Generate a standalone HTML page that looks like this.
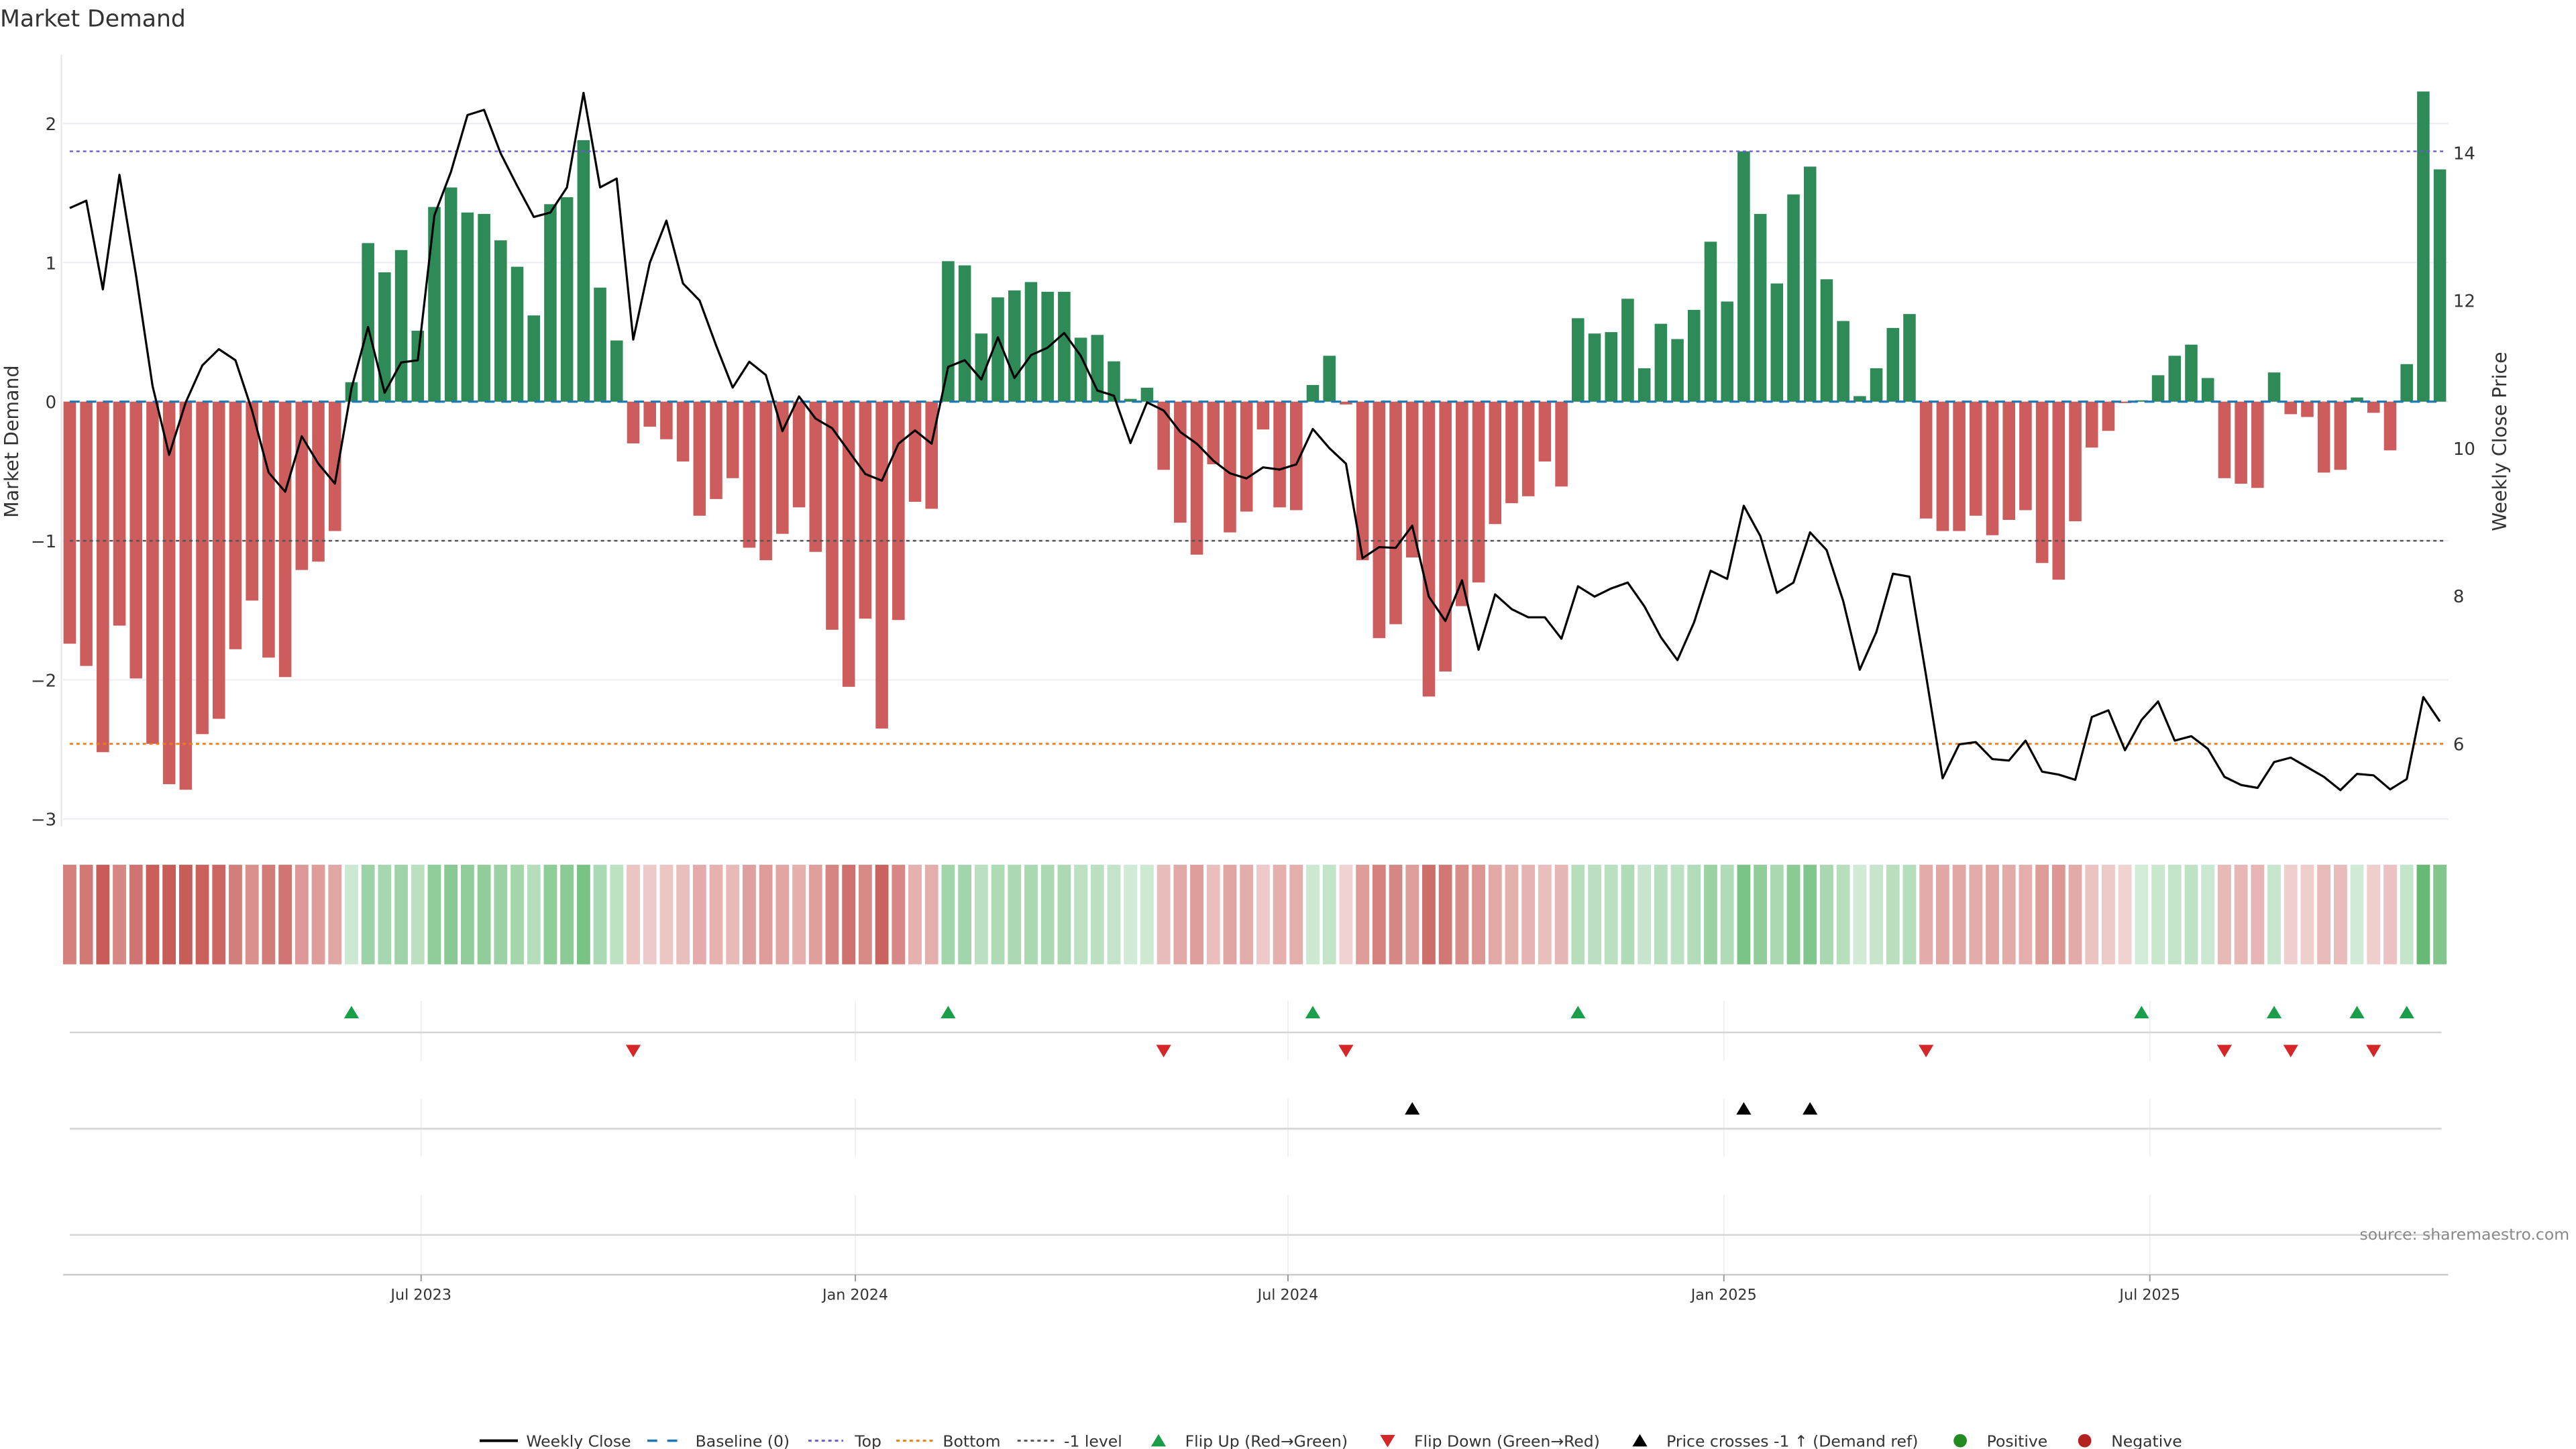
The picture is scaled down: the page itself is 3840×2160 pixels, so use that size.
<!DOCTYPE html>
<html><head><meta charset="utf-8"><style>
html,body{margin:0;padding:0;background:#fff;}
svg{display:block;font-family:"DejaVu Sans","Liberation Sans",sans-serif;}
</style></head><body>
<svg id="chart" width="3840" height="2160" viewBox="0 0 1552 873" preserveAspectRatio="none" xmlns="http://www.w3.org/2000/svg">
<text x="0" y="16" font-size="14" fill="#333">Market Demand</text>
<text transform="translate(11,266) rotate(-90)" text-anchor="middle" font-size="11.5" fill="#333">Market Demand</text>
<text transform="translate(1510,266) rotate(-90)" text-anchor="middle" font-size="11.5" fill="#333">Weekly Close Price</text>
<g id="grid"></g><g id="bars"></g><g id="refs"></g><g id="price"></g><g id="heat"></g><g id="marks"></g><g id="xaxis"></g><g id="legend"></g>
<text x="1548" y="747" text-anchor="end" font-size="9.5" fill="#888">source: sharemaestro.com</text>
</svg>
<script>
const demand = [-1.74,-1.90,-2.52,-1.61,-1.99,-2.46,-2.75,-2.79,-2.39,-2.28,-1.78,-1.43,-1.84,-1.98,-1.21,-1.15,-0.93,0.14,1.14,0.93,1.09,0.51,1.40,1.54,1.36,1.35,1.16,0.97,0.62,1.42,1.47,1.88,0.82,0.44,-0.30,-0.18,-0.27,-0.43,-0.82,-0.70,-0.55,-1.05,-1.14,-0.95,-0.76,-1.08,-1.64,-2.05,-1.56,-2.35,-1.57,-0.72,-0.77,1.01,0.98,0.49,0.75,0.80,0.86,0.79,0.79,0.46,0.48,0.29,0.02,0.10,-0.49,-0.87,-1.10,-0.45,-0.94,-0.79,-0.20,-0.76,-0.78,0.12,0.33,-0.02,-1.14,-1.70,-1.60,-1.12,-2.12,-1.94,-1.47,-1.30,-0.88,-0.73,-0.68,-0.43,-0.61,0.60,0.49,0.50,0.74,0.24,0.56,0.45,0.66,1.15,0.72,1.80,1.35,0.85,1.49,1.69,0.88,0.58,0.04,0.24,0.53,0.63,-0.84,-0.93,-0.93,-0.82,-0.96,-0.85,-0.78,-1.16,-1.28,-0.86,-0.33,-0.21,-0.01,0.01,0.19,0.33,0.41,0.17,-0.55,-0.59,-0.62,0.21,-0.09,-0.11,-0.51,-0.49,0.03,-0.08,-0.35,0.27,2.23,1.67];
const price = [13.25,13.35,12.15,13.70,12.34,10.84,9.91,10.62,11.12,11.34,11.19,10.51,9.67,9.41,10.16,9.79,9.52,10.81,11.64,10.75,11.16,11.19,13.15,13.74,14.51,14.58,13.99,13.55,13.13,13.19,13.53,14.81,13.53,13.65,11.47,12.51,13.08,12.23,12.00,11.39,10.82,11.17,10.99,10.23,10.70,10.40,10.27,9.96,9.65,9.56,10.06,10.24,10.06,11.10,11.19,10.93,11.50,10.95,11.26,11.36,11.56,11.25,10.78,10.71,10.07,10.62,10.51,10.22,10.06,9.83,9.66,9.59,9.74,9.71,9.78,10.26,10.00,9.79,8.51,8.66,8.65,8.95,7.99,7.66,8.21,7.27,8.02,7.82,7.71,7.71,7.42,8.13,7.99,8.10,8.18,7.86,7.44,7.13,7.64,8.34,8.23,9.22,8.81,8.04,8.18,8.86,8.62,7.93,7.00,7.51,8.30,8.26,6.92,5.53,5.99,6.02,5.79,5.77,6.04,5.62,5.58,5.51,6.36,6.45,5.91,6.32,6.57,6.04,6.10,5.93,5.55,5.44,5.40,5.75,5.81,5.68,5.55,5.37,5.59,5.57,5.38,5.52,6.63,6.30];
const crossIdx = [81,101,105];
const leftTicks = [2,1,0,-1,-2,-3];
const rightTicks = [14,12,10,8,6];
const dateTicks = ["Jul 2023","Jan 2024","Jul 2024","Jan 2025","Jul 2025"];
const dateTickIdx = [21.2,47.4,73.5,99.8,125.5];
const topLevel = 1.8, bottomLevel = -2.46, minusLevel = -1;

const NS = "http://www.w3.org/2000/svg";
function mk(parent, tag, attrs){const e=document.createElementNS(NS,tag);for(const k in attrs)e.setAttribute(k,attrs[k]);parent.appendChild(e);return e;}
const X = i => 42 + i*9.986;
const Y = v => 242 - v*83.8;
const P = p => 92 + (14-p)*44.5;
const g = id => document.getElementById(id);
const L = 38, R = 1475;

leftTicks.forEach(t=>{
  const ln = mk(g('grid'),'line',{x1:L,x2:R,y1:Y(t),y2:Y(t),stroke:'#ececf2','stroke-width':0.8});
  
  
  const tx = mk(g('grid'),'text',{x:34,y:Y(t)+4,'text-anchor':'end','font-size':10.5,fill:'#333'});
  tx.textContent = t<0 ? '\u2212'+(-t) : String(t);
  
  
});
rightTicks.forEach(t=>{
  const tx = mk(g('grid'),'text',{x:1478,y:P(t)+4,'font-size':10.5,fill:'#333'});
  tx.textContent = String(t);
  
  
});
const sp = mk(g('grid'),'line',{x1:37,x2:37,y1:33,y2:498,stroke:'#e4e4ea','stroke-width':0.8});



demand.forEach((v,i)=>{
  const y0 = Y(0), y1 = Y(v);
  const r = mk(g('bars'),'rect',{x:X(i)-3.75,width:7.5,y:Math.min(y0,y1),height:Math.abs(y1-y0),fill:v>=0?'#2e8b57':'#cd5c5c'});
  
  
});

const refs=[[0,'#1f77b4','6,4',1.3,'baseline-line'],[topLevel,'#6a5acd','2,2',1,'top-line'],[bottomLevel,'#e67e22','2,2',1.2,'bottom-line'],[minusLevel,'#555','2,2',1,'minus-one-line']];
refs.forEach(([v,c,d,w,n])=>{
  const ln = mk(g('refs'),'line',{x1:42,x2:1472,y1:Y(v),y2:Y(v),stroke:c,'stroke-dasharray':d,'stroke-width':w});
  
  
});

const pl = mk(g('price'),'polyline',{points:price.map((p,i)=>X(i)+','+P(p)).join(' '),fill:'none',stroke:'#000','stroke-width':1.3,'stroke-linejoin':'round'});



demand.forEach((v,i)=>{
  const a = Math.min(0.27 + 0.73*Math.abs(v)/2.5, 1);
  const base = v>=0 ? [90,180,105] : [200,92,88];
  const col = 'rgb('+base.map(c=>Math.round(255-(255-c)*a)).join(',')+')';
  const r = mk(g('heat'),'rect',{x:X(i)-4,width:8,y:521,height:60,fill:col});
  
  
});

[[603,639],[662,697],[720,768]].forEach(([a,b])=>{
  dateTickIdx.forEach(ti=>{
    const ln = mk(g('marks'),'line',{x1:X(ti),x2:X(ti),y1:a,y2:b,stroke:'#eef0f3','stroke-width':0.8});
    
    
  });
});
[622,680,744].forEach(y=>{
  const ln = mk(g('marks'),'line',{x1:42,x2:1471,y1:y,y2:y,stroke:'#d4d4d4','stroke-width':1});
  
  
});
function tri(parent,x,y,up,col){
  const pts = up ? [[x,y-4],[x-4.5,y+3.5],[x+4.5,y+3.5]] : [[x,y+4],[x-4.5,y-3.5],[x+4.5,y-3.5]];
  return mk(parent,'polygon',{points:pts.map(p=>p.join(',')).join(' '),fill:col});
}
for(let i=1;i<demand.length;i++){
  if(demand[i-1]<0 && demand[i]>=0){
    const t = tri(g('marks'),X(i),610,true,'#1a9e4a');
    
    
  } else if(demand[i-1]>=0 && demand[i]<0){
    const t = tri(g('marks'),X(i),633,false,'#d62728');
    
    
  }
}
crossIdx.forEach(i=>{
  const t = tri(g('marks'),X(i),668,true,'#000');
  
  
});

const ax = mk(g('xaxis'),'line',{x1:L,x2:R,y1:768,y2:768,stroke:'#ccc','stroke-width':1});


dateTicks.forEach((lab,k)=>{
  const x = X(dateTickIdx[k]);
  const tk = mk(g('xaxis'),'line',{x1:x,x2:x,y1:768,y2:772,stroke:'#999','stroke-width':0.8});
  
  
  const tx = mk(g('xaxis'),'text',{x:x,y:783,'text-anchor':'middle','font-size':9,fill:'#333'});
  tx.textContent = lab;
  
  
});

const lg = g('legend'), LY = 868;
function ltext(x,s){const t=mk(lg,'text',{x:x,y:LY+3.5,'font-size':9.5,fill:'#333'});t.textContent=s;return t;}
function lline(x1,x2,c,d,w){return mk(lg,'line',{x1:x1,x2:x2,y1:LY,y2:LY,stroke:c,'stroke-dasharray':d,'stroke-width':w});}
const items = [
  ()=>lline(289,312,'#000','none',1.6), 317,'Weekly Close','legend-weekly-close',
  ()=>lline(390,412,'#1f77b4','6,6',1.4), 419,'Baseline (0)','legend-baseline',
  ()=>lline(487,508,'#6a5acd','2,2',1.2), 515,'Top','legend-top',
  ()=>lline(540,562,'#e67e22','2,2',1.2), 568,'Bottom','legend-bottom',
  ()=>lline(613,636,'#555','2,2',1.2), 641,'-1 level','legend-minus-one',
  ()=>tri(lg,698,LY,true,'#1a9e4a'), 714,'Flip Up (Red\u2192Green)','legend-flip-up',
  ()=>tri(lg,836,LY,false,'#d62728'), 852,'Flip Down (Green\u2192Red)','legend-flip-down',
  ()=>tri(lg,988,LY,true,'#000'), 1004,'Price crosses -1 \u2191 (Demand ref)','legend-price-cross',
  ()=>mk(lg,'circle',{cx:1181,cy:LY,r:4,fill:'#228b22'}), 1197,'Positive','legend-positive',
  ()=>mk(lg,'circle',{cx:1256,cy:LY,r:4,fill:'#b22222'}), 1272,'Negative','legend-negative'
];
for(let k=0;k<items.length;k+=4){
  const sym = items[k]();
  
  
  const t = ltext(items[k+1],items[k+2]);
  
  
}
</script>
</body></html>
